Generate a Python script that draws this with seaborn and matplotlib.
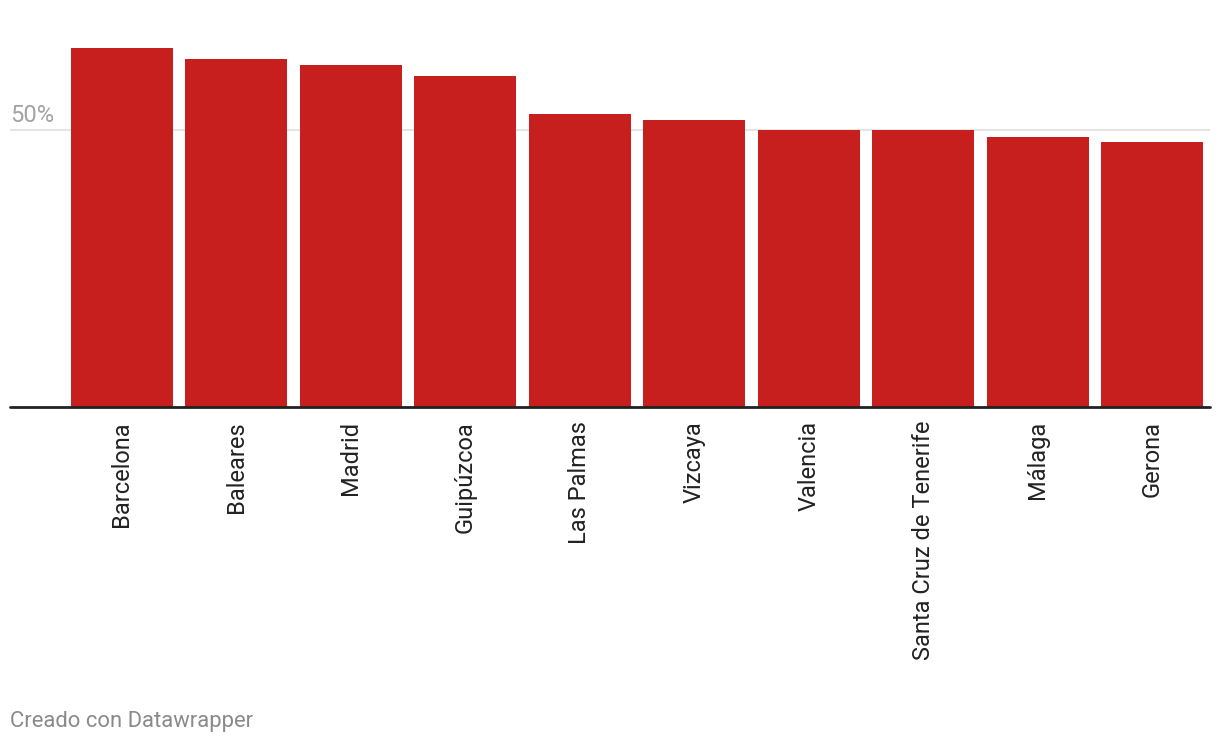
import matplotlib
matplotlib.use("Agg")
import matplotlib.pyplot as plt
import seaborn as sns
import pandas as pd

# Data
provincias = ["Barcelona", "Baleares", "Madrid", "Guipúzcoa", "Las Palmas",
              "Vizcaya", "Valencia", "Santa Cruz de Tenerife", "Málaga", "Gerona"]
valores = [64.8, 62.8, 61.7, 59.7, 52.9, 51.8, 50.0, 50.0, 48.7, 47.8]

df = pd.DataFrame({"provincia": provincias, "valor": valores})

sns.set_style("white")
plt.rcParams['font.family'] = ['Roboto', 'DejaVu Sans']

fig = plt.figure(figsize=(12.2, 7.46), dpi=100)
# axes geometry in pixels: x 10..1210, baseline at y=407, ymax 66 -> top ~41
ax = fig.add_axes([10 / 1220, (746 - 407) / 746, 1200 / 1220, 365.6 / 746])

sns.barplot(data=df, x="provincia", y="valor", color="#c71e1e", saturation=1,
            width=0.89, linewidth=0, ax=ax)

ax.set_xlim(-0.978, 9.506)
ax.set_ylim(0, 66)

# gridline at 50%
ax.axhline(50, color="#e5e5e5", lw=1.5, zorder=0)
ax.text(0.0, 50.6, "50%", transform=ax.get_yaxis_transform(), ha="left", va="bottom",
        fontsize=17, color="#a3a3a3")
ax.axhline(0, color="#222222", lw=2, zorder=5, clip_on=False)

for s in ax.spines.values():
    s.set_visible(False)
ax.set_yticks([])
ax.set_xlabel("")
ax.set_ylabel("")
ax.tick_params(axis="x", length=0, pad=10)
ax.set_xticks(range(len(provincias)))
ax.set_xticklabels(provincias, rotation=90, fontsize=17, color="#222222", va="top")

fig.text(10 / 1220, 1 - 721 / 746, "Creado con Datawrapper", ha="left", va="center",
         fontsize=15.8, color="#8a8a8a")

fig.savefig("out.png", dpi=100)
